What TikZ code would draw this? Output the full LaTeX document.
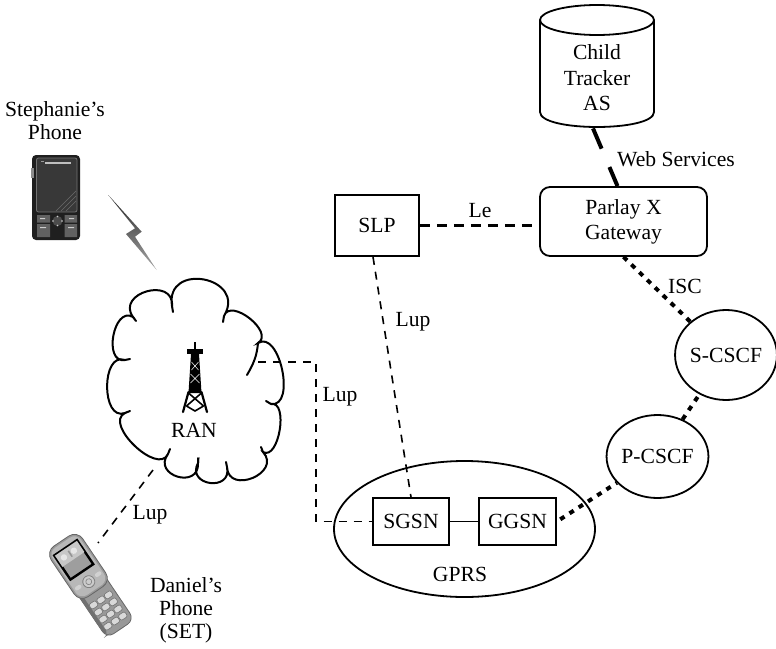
\documentclass[tikz,border=0pt]{standalone}
\usepackage{fontspec}
\setmainfont{Liberation Serif}
\usetikzlibrary{shapes.geometric,calc}

\begin{document}
\begin{tikzpicture}[x=0.5pt,y=-0.5pt,
  every node/.style={font=\fontsize{10.8}{12.5}\selectfont},
  box/.style={draw, line width=0.9pt, inner sep=0pt, align=center},
  lbl/.style={inner sep=1pt, align=center},
  leline/.style={line width=1.2pt, dash pattern=on 5pt off 3.5pt},
  lupline/.style={line width=0.8pt, dash pattern=on 4pt off 3.5pt},
  dotline/.style={line width=2pt, dash pattern=on 2.5pt off 3pt},
  wsline/.style={line width=2pt, dash pattern=on 11pt off 10pt},
  cloudline/.style={line width=1pt, line cap=round},
  phonekey/.style={draw=black!55, fill=black!15, line width=0.3pt, rounded corners=1pt},
]
\useasboundingbox (0,0) rectangle (776,648);

% ---------- application server (cylinder) ----------
\node[inner sep=0pt, minimum width=57pt, minimum height=61pt] (ctas) at (597,66) {};
\draw[line width=0.9pt, fill=white] (540,20) -- (540,112) .. controls (540,132) and (654,132) .. (654,112) -- (654,20);
\draw[line width=0.9pt] (597,20) ellipse [x radius=57, y radius=15];
\node[lbl, font=\fontsize{10.8}{12.75}\selectfont] (ctastext) at (597,78) {Child\\Tracker\\AS};

% ---------- core network elements ----------
\node[box, rounded corners=5pt, minimum width=83.5pt, minimum height=34.5pt] (parlay) at (623.5,221.5) {Parlay X\\Gateway};
\node[box, minimum width=42pt, minimum height=30.5pt] (slp) at (377,225.5) {SLP};
\node[box, ellipse, minimum width=49pt, minimum height=45pt] (scscf) at (726,355) {S-CSCF};
\node[box, ellipse, minimum width=49.5pt, minimum height=41.5pt] (pcscf) at (657.5,456.5) {P-CSCF};
\node[box, ellipse, minimum width=130.5pt, minimum height=68pt] (gprs) at (464.5,529) {};
\node[lbl] (gprslbl) at (460,574) {GPRS};
\node[box, minimum width=38pt, minimum height=23.5pt, fill=white] (sgsn) at (411,521.5) {SGSN};
\node[box, minimum width=38.5pt, minimum height=23.5pt, fill=white] (ggsn) at (517.5,521.5) {GGSN};

% ---------- RAN cloud ----------
\draw[cloudline] (172,306) to[out=99,in=59,looseness=2.2] (224,316)
  to[out=71.5,in=31.5,looseness=1.18] (258,343)
  to[out=32,in=-8,looseness=1.05] (271,404)
  to[out=10.5,in=-29.5,looseness=0.96] (263,452)
  to[out=-47.4,in=-87.4,looseness=1.86] (227,467)
  to[out=-78,in=-118,looseness=2.25] (198,463)
  to[out=-87,in=-127,looseness=2.2] (168,454)
  to[out=246,in=206,looseness=1.04] (125,413)
  to[out=200,in=160,looseness=1.23] (125,360)
  to[out=189.5,in=149.5,looseness=1.32] (133,317)
  to[out=125.7,in=85.7,looseness=1.88] (172,306);
% small inner hooks where the puffs overlap
\draw[cloudline] (172,306) -- +(1,6)
  (224,316) -- +(-1,6)
  (258,343) to[out=-95,in=60] (247,375)
  (271,404) -- +(-5,-3)
  (263,452) -- +(-2,-5)
  (227,467) -- +(-1,-5)
  (198,463) -- +(0,-5)
  (168,454) -- +(2,-5)
  (125,413) -- +(5,-2)
  (125,360) -- +(5,-1)
  (133,317) -- +(3,4);

% radio tower
\draw[line width=0.7pt] (195,342) -- (195,349);
\fill (187,348.5) rectangle (203,354);
\fill (191,354) -- (199,354) -- (201.5,393) -- (188.5,393) -- cycle;
\draw[white, line width=0.25pt] (191.5,362) -- (198.5,370) (198.5,362) -- (191.5,370)
  (190.5,374) -- (199.5,383) (199.5,374) -- (190.5,383);
\draw[line width=1.1pt, line cap=round] (188.5,392) -- (183,412) (201.5,392) -- (207,412);
\draw[line width=0.8pt] (188.5,393) -- (203.5,406) (201.5,393) -- (186.5,406)
  (186.5,406) -- (195,411) -- (203.5,406);
\node[lbl] (ran) at (194,430) {RAN};

\coordinate (ranR) at (258,362);
\coordinate (ranB) at (153,470);
\coordinate (setA) at (98,543);

% ---------- connectors ----------
\draw[wsline] ($(ctas.south)+(-4,1)$) -- ($(parlay.north)+(-6,0)$);
\node[lbl] at (676,159) {Web Services};
\draw[leline] (slp.east) -- (slp.east -| parlay.west);
\node[lbl] at (480,211) {Le};
\draw[lupline] ($(slp.south)+(-4,0)$) -- (sgsn.north);
\node[lbl] at (413,322) {Lup};
\draw[lupline] (ranR) -- ++(58,0) |- (sgsn.west);
\node[lbl] at (340,397) {Lup};
\draw[lupline] (ranB) -- (setA);
\node[lbl] at (150,515) {Lup};
\draw[line width=0.9pt] (sgsn) -- (ggsn);
\draw[dotline, shorten <=2pt] (ggsn.east) -- (pcscf);
\draw[dotline] (pcscf) -- (scscf);
\draw[dotline] (parlay.south) -- (scscf.137);
\node[lbl] at (685,286) {ISC};

% ---------- Stephanie's phone ----------
\node[lbl, font=\fontsize{10.8}{11.5}\selectfont] (steph) at (55,121) {Stephanie’s\\Phone};
\fill[black!88, rounded corners=2pt] (32,155) rectangle (80,240);
\fill[black!45] (31,168) rectangle (33.5,178);
\draw[black!55, fill=black!78, line width=0.4pt, rounded corners=1pt] (36.5,158) rectangle (77,212);
\draw[black!25, line width=0.9pt] (45,163) -- (71,163);
\draw[black!40, line width=0.3pt] (41,161) -- (44,161);
\draw[black!58, line width=0.3pt] (56,211) -- (76,191) (61,211) -- (76,196) (66,211) -- (76,201);
\fill[black!62] (37,215) rectangle (50,222.5) (64.5,215) rectangle (77,222.5)
  (37,224) rectangle (50,237) (64.5,224) rectangle (77,237);
\fill[black!70] (57.5,221) circle (5);
\fill[black!20] (57.5,216.5) circle (0.8) (57.5,225.5) circle (0.8) (53,221) circle (0.8) (62,221) circle (0.8);
\fill[black!20] (40,218) rectangle (45,219.2) (69,218) rectangle (74,219.2)
  (40,227) rectangle (46,228.2) (68,227) rectangle (74,228.2);

% ---------- Daniel's phone ----------
\node[lbl, font=\fontsize{10.8}{11.5}\selectfont] (daniel) at (186,610) {Daniel’s\\Phone\\(SET)};
\begin{scope}[shift={(91,585)}, rotate=34]
  \draw[black!60, fill=black!40, line width=0.4pt, rounded corners=4pt] (-16.5,-10) rectangle (16.5,53);
  \fill[black!56, rounded corners=3pt] (-16.5,-8) rectangle (-13,51);
  \foreach \kx in {-9,0,9} {
    \foreach \ky in {18,26.5,35,43.5} {
      \draw[phonekey] (\kx-4,\ky-3) rectangle (\kx+4,\ky+3);
    }
  }
  \draw[black!60, fill=black!40, line width=0.4pt, rounded corners=5pt] (-19,-53) rectangle (19,8);
  \fill[black!28, rounded corners=4pt] (-17,-51) rectangle (17,6);
  \draw[black, line width=1.2pt, fill=black!38] (-14,-45) rectangle (13.5,-16);
  \fill[black!22] (-13.5,-44.5) rectangle (13,-31);
  \fill[black!10] (-7,-38) circle (3.2) (5,-38) circle (3.2);
  \fill[black!42] (-0.5,-41) rectangle (1,-34);
  \draw[black!50, fill=black!20, line width=0.4pt] (0,-4) circle (6);
  \draw[black!50, line width=0.3pt] (0,-4) circle (3);
  \fill[black!18, rounded corners=1pt] (-15.5,-7) rectangle (-8.5,-3) (8.5,-7) rectangle (15.5,-3);
\end{scope}

% ---------- lightning bolt ----------
\shade[top color=black!85, bottom color=black!35] (108.3,195) -- (141.7,231.7) -- (135,236.7) -- (156.7,270) -- (126,234) -- (135,228.3) -- cycle;

\end{tikzpicture}
\end{document}
